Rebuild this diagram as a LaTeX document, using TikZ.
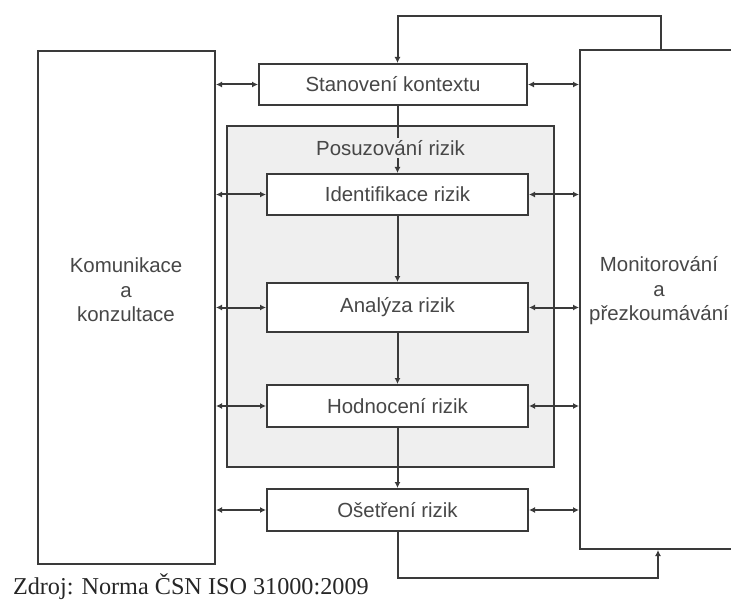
\documentclass[tikz,border=0pt]{standalone}
\usepackage{fontspec}
\setmainfont{Liberation Sans}
\newfontfamily\capfont{Liberation Serif}
\usetikzlibrary{arrows.meta}
\definecolor{linegray}{HTML}{3A3A3A}
\definecolor{textgray}{HTML}{474747}
\definecolor{boxgray}{HTML}{EFEFEF}

\begin{document}
\begin{tikzpicture}[x=1bp, y=-1bp, color=linegray, line width=2bp,
    >={Latex[length=6bp,width=6bp]},
    txt/.style={text=textgray, font=\fontsize{20.5}{24.6}\selectfont},
    bigbox/.style={draw, fill=white, inner sep=0pt},
    stepbox/.style={txt, draw, fill=white, inner sep=0pt,
      minimum width=261bp, minimum height=41bp}]
    \useasboundingbox (0,0) rectangle (731,601);
    % side boxes
    \node[bigbox, minimum width=177bp, minimum height=513bp] (kom) at (126.5, 307.5) {};
    \node[bigbox, minimum width=165bp, minimum height=499bp] (mon) at (662.5, 299.5) {};
    \node[txt, align=center] (komtxt) at (126, 290) {Komunikace\\a\\konzultace};
    \node[txt, align=center] (montxt) at (659, 291) {Monitorování\\a\\přezkoumávání};
    % risk assessment frame
    \node[draw, fill=boxgray, inner sep=0pt, minimum width=327bp, minimum height=341bp] (pos) at (390.5, 296.5) {};
    % steps
    \node[stepbox, minimum width=268bp] (ctx) at (393, 84.5) {Stanovení kontextu};
    \node[stepbox] (ident) at (397.5, 194.5) {Identifikace rizik};
    \node[stepbox, minimum height=49bp] (anal) at (397.5, 307.5) {Analýza rizik};
    \node[stepbox, minimum height=42bp] (eval) at (397.5, 406) {Hodnocení rizik};
    \node[stepbox, minimum height=42bp] (treat) at (397.5, 510) {Ošetření rizik};
    \draw [->] (ident.north |- ctx.south) to (ident.north);
    \node[txt, fill=boxgray, inner sep=2bp] (postxt) at (390.5, 148) {Posuzování rizik};
    \draw [->] (ident) to (anal);
    \draw [->] (anal) to (eval);
    \draw [->] (eval) to (treat);
    % links to the side boxes
    \foreach \s in {ctx, ident, anal, eval, treat} {
      \draw [<->] (kom.east |- \s) to (\s);
      \draw [<->] (\s) to (mon.west |- \s);
    }
    % loops
    \coordinate (toploop) at (661, 16);
    \coordinate (botloop) at (658, 578);
    \draw [->] (toploop |- mon.north) -- (toploop) -| (ident.north |- ctx.north);
    \draw [->] (treat.south) |- (botloop) -- (botloop |- mon.south);
    \node[font=\capfont\fontsize{24.3}{28}\selectfont, text=black!85, anchor=base west, inner sep=0pt] (src) at (12, 594) {Zdroj: Norma ČSN ISO 31000:2009};
\end{tikzpicture}
\end{document}
